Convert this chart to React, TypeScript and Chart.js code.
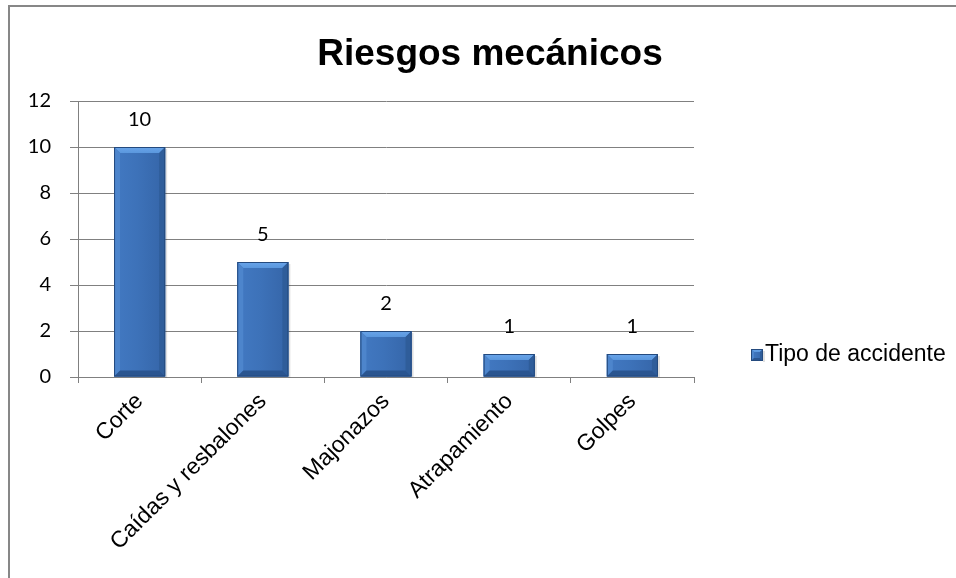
import React, { useEffect, useRef } from "react";
import { Chart, registerables } from "chart.js";

Chart.register(...registerables);

const chartTitle = "Riesgos mecánicos";
const seriesName = "Tipo de accidente";
const categories = ["Corte", "Caídas y resbalones", "Majonazos", "Atrapamiento", "Golpes"];
const values = [10, 5, 2, 1, 1];
const yMin = 0;
const yMax = 12;
const yStep = 2;

const TEXT_FONT = "'Liberation Sans', Arial, sans-serif";
const NUM_FONT = "Lato, 'Liberation Sans', sans-serif";

const BAR = {
  face: "#3c70b7",
  top: "#5a97dd",
  left: "#4d85cc",
  right: "#2f5d9a",
  bottom: "#2a5590",
  edge: "#244a7e",
};

function drawBevelBox(ctx: CanvasRenderingContext2D, l: number, t: number, r: number, b: number, d0: number) {
  const w = r - l;
  const h = b - t;
  const d = Math.max(1, Math.min(d0, w / 2, h / 2));
  ctx.save();
  // soft shadow to the right
  ctx.fillStyle = "rgba(0,0,0,0.12)";
  ctx.fillRect(r, t + 2, 2, h - 1);
  ctx.fillStyle = BAR.face;
  ctx.fillRect(l, t, w, h);
  // face horizontal gradient
  const gf = ctx.createLinearGradient(l, 0, r, 0);
  gf.addColorStop(0, "#4279c2");
  gf.addColorStop(0.45, "#3d72b9");
  gf.addColorStop(1, "#3565a8");
  ctx.fillStyle = gf;
  ctx.fillRect(l, t, w, h);
  // top
  const gt = ctx.createLinearGradient(0, t, 0, t + d);
  gt.addColorStop(0, "#6aa5ea");
  gt.addColorStop(1, BAR.top);
  ctx.fillStyle = gt;
  ctx.beginPath();
  ctx.moveTo(l, t); ctx.lineTo(r, t); ctx.lineTo(r - d, t + d); ctx.lineTo(l + d, t + d); ctx.closePath();
  ctx.fill();
  // left
  ctx.fillStyle = BAR.left;
  ctx.beginPath();
  ctx.moveTo(l, t); ctx.lineTo(l + d, t + d); ctx.lineTo(l + d, b - d); ctx.lineTo(l, b); ctx.closePath();
  ctx.fill();
  // right
  ctx.fillStyle = BAR.right;
  ctx.beginPath();
  ctx.moveTo(r, t); ctx.lineTo(r - d, t + d); ctx.lineTo(r - d, b - d); ctx.lineTo(r, b); ctx.closePath();
  ctx.fill();
  // bottom
  ctx.fillStyle = BAR.bottom;
  ctx.beginPath();
  ctx.moveTo(l, b); ctx.lineTo(l + d, b - d); ctx.lineTo(r - d, b - d); ctx.lineTo(r, b); ctx.closePath();
  ctx.fill();
  ctx.strokeStyle = BAR.edge;
  ctx.lineWidth = 1;
  ctx.strokeRect(l + 0.5, t + 0.5, w - 1, h - 1);
  ctx.restore();
}

const decorPlugin = {
  id: "decor",
  beforeDraw(chart: any) {
    const ctx = chart.ctx as CanvasRenderingContext2D;
    ctx.save();
    ctx.fillStyle = "#ffffff";
    ctx.fillRect(0, 0, chart.width, chart.height);
    ctx.strokeStyle = "#878787";
    ctx.lineWidth = 2;
    ctx.beginPath();
    ctx.moveTo(9, chart.height + 2);
    ctx.lineTo(9, 6);
    ctx.lineTo(chart.width + 2, 6);
    ctx.stroke();
    // title
    ctx.fillStyle = "#000000";
    ctx.font = `bold 37px ${TEXT_FONT}`;
    ctx.textAlign = "center";
    ctx.textBaseline = "alphabetic";
    ctx.fillText(chartTitle, 490, 65);
    ctx.restore();
  },
  afterDatasetsDraw(chart: any) {
    const ctx = chart.ctx as CanvasRenderingContext2D;
    const meta = chart.getDatasetMeta(0);
    const ds = chart.data.datasets[0];
    meta.data.forEach((bar: any, i: number) => {
      const { x, y, base, width } = bar.getProps(["x", "y", "base", "width"], true);
      drawBevelBox(ctx, x - width / 2, y, x + width / 2, base, 6);
      ctx.save();
      ctx.fillStyle = "#000000";
      ctx.font = `20px ${NUM_FONT}`;
      ctx.textAlign = "center";
      ctx.textBaseline = "middle";
      ctx.fillText(String(ds.data[i]), x, y - 27);
      ctx.restore();
    });
    // legend
    const area = chart.chartArea;
    const lx = area.right + 57;
    const ly = area.bottom - 22;
    drawBevelBox(ctx, lx, ly - 6, lx + 12, ly + 6, 3);
    ctx.save();
    ctx.fillStyle = "#000000";
    ctx.font = `23px ${TEXT_FONT}`;
    ctx.textAlign = "left";
    ctx.textBaseline = "middle";
    ctx.fillText(ds.label, lx + 14, ly);
    ctx.restore();
  },
};

export default function App() {
  const ref = useRef<HTMLCanvasElement | null>(null);
  useEffect(() => {
    if (!ref.current) return;
    const chart = new Chart(ref.current, {
      type: "bar",
      data: {
        labels: categories,
        datasets: [
          {
            label: seriesName,
            data: values,
            backgroundColor: "rgba(0,0,0,0)",
            borderWidth: 0,
            categoryPercentage: 1,
            barPercentage: 0.415,
          },
        ],
      },
      options: {
        responsive: false,
        animation: false,
        devicePixelRatio: 1,
        layout: { padding: { top: 101, left: 0, right: 262, bottom: 0 } },
        plugins: {
          legend: { display: false },
          title: { display: false },
          tooltip: { enabled: false },
        },
        scales: {
          x: {
            offset: true,
            grid: {
              display: true,
              drawOnChartArea: false,
              offset: true,
              tickLength: 6,
              color: "#808080",
            },
            border: { display: true, color: "#808080", width: 1 },
            ticks: {
              minRotation: 45,
              maxRotation: 45,
              autoSkip: false,
              padding: 5,
              color: "#000000",
              font: { family: TEXT_FONT, size: 23 },
            },
            afterFit(scale: any) {
              scale.height = 201;
            },
          },
          y: {
            min: yMin,
            max: yMax,
            ticks: {
              stepSize: yStep,
              padding: 19,
              color: "#000000",
              font: { family: NUM_FONT, size: 20 },
            },
            grid: {
              color: "#808080",
              tickLength: 8,
              lineWidth: 1,
            },
            border: { display: true, color: "#808080", width: 1 },
            afterFit(scale: any) {
              scale.width = 78;
            },
          },
        },
      },
      plugins: [decorPlugin],
    });
    return () => chart.destroy();
  }, []);
  return (
    <div style={{ position: "absolute", left: 0, top: 0, width: 956, height: 578 }}>
      <canvas ref={ref} width={956} height={578} style={{ display: "block" }} />
    </div>
  );
}
